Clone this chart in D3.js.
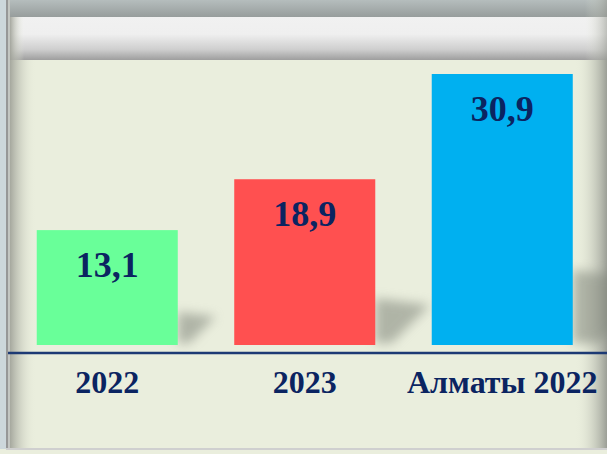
<!DOCTYPE html>
<html><head><meta charset="utf-8">
<script src="https://cdn.jsdelivr.net/npm/d3@7"></script>
<style>html,body{margin:0;padding:0;background:#eaeedd;overflow:hidden}</style>
</head><body>
<script>
const categories = ["2022", "2023", "Алматы 2022"];
const values = [13.1, 18.9, 30.9];
const valueLabels = ["13,1", "18,9", "30,9"];
const colors = ["#69ff99", "#ff5050", "#00b0f0"];

const W = 607, H = 454;
const svg = d3.select("body").append("svg").attr("width", W).attr("height", H);
const defs = svg.append("defs");

const lg = (id, x1, y1, x2, y2, stops) => {
  const g = defs.append("linearGradient").attr("id", id)
    .attr("x1", x1).attr("y1", y1).attr("x2", x2).attr("y2", y2);
  stops.forEach(s => g.append("stop").attr("offset", s[0]).attr("stop-color", s[1]).attr("stop-opacity", s[2] == null ? 1 : s[2]));
};
lg("topGray", 0, 0, 0, 1, [[0, "#b5bdbd"], [1, "#979d9c"]]);
lg("band", 0, 0, 0, 1, [[0, "#f1f1f1"], [0.4, "#efefef"], [0.75, "#cfcfcf"], [1, "#9e9e9e"]]);
lg("leftShade", 0, 0, 1, 0, [[0, "#9ea097", 0.9], [1, "#eaeedd", 0]]);
lg("rightShade", 0, 0, 1, 0, [[0, "#eaeedd", 0], [1, "#979a92", 0.95]]);
defs.append("filter").attr("id", "blur").attr("x", "-50%").attr("y", "-50%").attr("width", "200%").attr("height", "200%")
  .append("feGaussianBlur").attr("stdDeviation", 5.5);

svg.append("rect").attr("x", 0).attr("y", 0).attr("width", W).attr("height", H).attr("fill", "#eaeedd");
svg.append("rect").attr("x", 0).attr("y", 0).attr("width", 6).attr("height", 449).attr("fill", "#cdd7db");
svg.append("rect").attr("x", 6).attr("y", 0).attr("width", 2).attr("height", 449).attr("fill", "#979797");
svg.append("rect").attr("x", 8).attr("y", 0).attr("width", 2).attr("height", 449).attr("fill", "#c4c6c2");
svg.append("rect").attr("x", 10).attr("y", 60).attr("width", 26).attr("height", 389).attr("fill", "url(#leftShade)");
svg.append("rect").attr("x", 575).attr("y", 60).attr("width", 32).attr("height", 389).attr("fill", "url(#rightShade)");
svg.append("rect").attr("x", 10).attr("y", 0).attr("width", W - 10).attr("height", 17).attr("fill", "url(#topGray)");
svg.append("rect").attr("x", 10).attr("y", 17).attr("width", W - 10).attr("height", 43).attr("fill", "url(#band)");
svg.append("rect").attr("x", 10).attr("y", 17).attr("width", 14).attr("height", 43).attr("fill", "url(#leftShade)");
svg.append("rect").attr("x", 585).attr("y", 0).attr("width", 22).attr("height", 60).attr("fill", "url(#rightShade)").attr("opacity", 0.6);
svg.append("rect").attr("x", 6).attr("y", 448).attr("width", W - 6).attr("height", 2).attr("fill", "#cfcfcf");

const x = d3.scaleBand().domain(categories).range([8.5, 601]).paddingInner(0.286).paddingOuter(0.143);
const y = d3.scaleLinear().domain([0, 30.9]).range([345, 74]);
const data = categories.map((c, i) => ({c, v: values[i], lab: valueLabels[i], col: colors[i]}));

const clip = defs.append("clipPath").attr("id", "clipPanel");
clip.append("rect").attr("x", 10).attr("y", 60).attr("width", W - 10).attr("height", 389);
svg.append("g").attr("clip-path", "url(#clipPanel)").selectAll("path").data(data).join("path")
  .attr("d", d => {
    const xr = x(d.c) + x.bandwidth(), yb = y(0) - 2, h = y(0) - y(d.v);
    return `M${xr},${yb - 0.27 * h}L${xr + 0.33 * h},${yb - 0.23 * h}L${xr + 0.1 * h},${yb}L${xr},${yb}Z`;
  })
  .attr("fill", "#80857a").attr("opacity", 0.55).attr("filter", "url(#blur)");

svg.selectAll("rect.bar").data(data).join("rect").attr("class", "bar")
  .attr("x", d => x(d.c)).attr("width", x.bandwidth())
  .attr("y", d => y(d.v)).attr("height", d => y(0) - y(d.v))
  .attr("fill", d => d.col);

svg.append("line").attr("x1", 8).attr("x2", W).attr("y1", 353).attr("y2", 353)
  .attr("stroke", "#1d3a74").attr("stroke-width", 2.5);

const font = "'Liberation Serif', 'Times New Roman', serif";
svg.selectAll("text.val").data(data).join("text").attr("class", "val")
  .attr("x", d => x(d.c) + x.bandwidth() / 2).attr("y", d => y(d.v) + 47)
  .attr("text-anchor", "middle").attr("font-family", font).attr("font-weight", "bold")
  .attr("font-size", 36).attr("fill", "#0b2461").text(d => d.lab);

svg.selectAll("text.cat").data(data).join("text").attr("class", "cat")
  .attr("x", d => x(d.c) + x.bandwidth() / 2).attr("y", 393)
  .attr("text-anchor", "middle").attr("font-family", font).attr("font-weight", "bold")
  .attr("font-size", 32).attr("fill", "#0b2461").text(d => d.c);
</script>
</body></html>
